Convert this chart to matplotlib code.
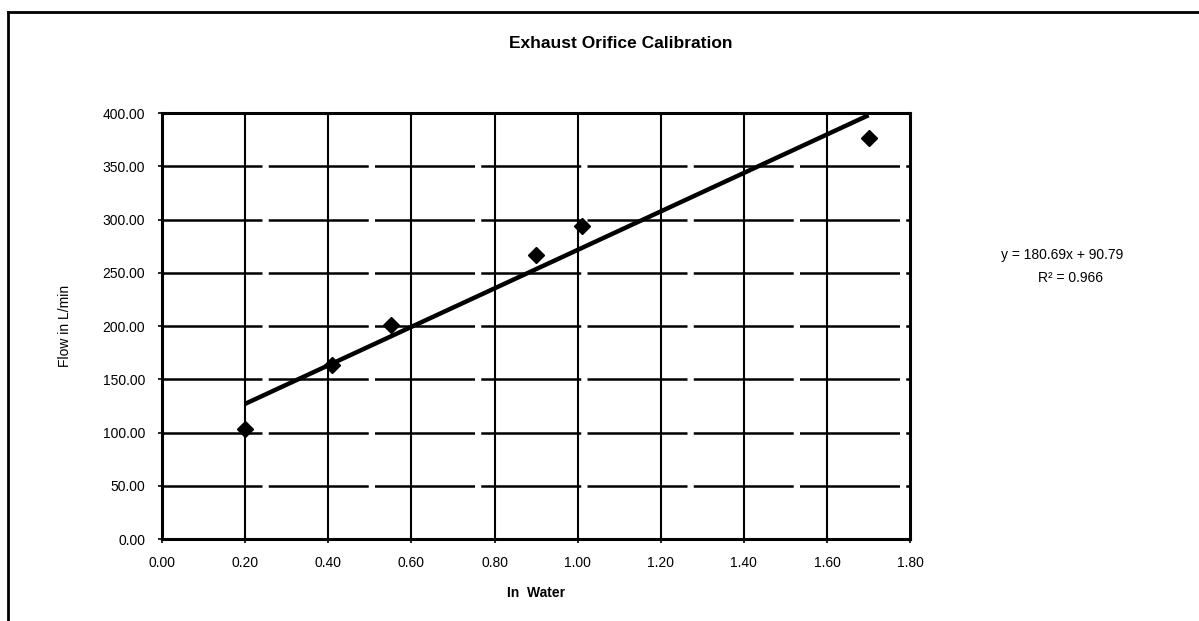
import matplotlib
matplotlib.use("Agg")
import matplotlib.pyplot as plt
from matplotlib.lines import Line2D
import numpy as np

plt.rcParams['font.family'] = ['Liberation Sans', 'DejaVu Sans']

# Data
in_water = [0.20, 0.41, 0.55, 0.90, 1.01, 1.70]
flow_lpm = [103, 163, 201, 267, 294, 377]
slope, intercept = 180.69, 90.79
r_squared = 0.966
x_ticks = [0.00, 0.20, 0.40, 0.60, 0.80, 1.00, 1.20, 1.40, 1.60, 1.80]
y_ticks = [0, 50, 100, 150, 200, 250, 300, 350, 400]

fig = plt.figure(figsize=(11.99, 6.21), dpi=100)
ax = fig.add_axes([0.1351, 0.132, 0.624, 0.686])

ax.set_xlim(0, 1.8)
ax.set_ylim(0, 400)
ax.set_xticks(x_ticks)
ax.set_yticks(y_ticks)
ax.set_xticklabels([f"{v:.2f}" for v in x_ticks])
ax.set_yticklabels([f"{v:.2f}" for v in y_ticks])
ax.tick_params(axis='both', labelsize=10, length=3, width=1.2, color='black',
               pad=9)

for v in x_ticks[1:-1]:
    ax.axvline(v, color='black', lw=1.5, zorder=1)
for v in y_ticks[1:-1]:
    ax.axhline(v, color='black', lw=1.8, dashes=(40, 2.5), zorder=1)

for s in ax.spines.values():
    s.set_linewidth(2.2)
    s.set_color('black')

xs = np.array([min(in_water), max(in_water)])
ax.plot(xs, slope * xs + intercept, color='black', lw=3.2, zorder=3,
        solid_capstyle='butt')
ax.plot(in_water, flow_lpm, linestyle='none', marker='D', markersize=8.5,
        color='black', zorder=4)

ax.set_xlabel("In  Water", fontsize=10, fontweight='bold', labelpad=12)
ax.set_ylabel("Flow in L/min", fontsize=10, labelpad=22)
fig.text(0.518, 0.930, "Exhaust Orifice Calibration", ha='center',
         va='center', fontsize=12.5, fontweight='bold')

fig.text(0.886, 0.589, f"y = {slope:.2f}x + {intercept:.2f}", ha='center',
         va='center', fontsize=10)
fig.text(0.893, 0.552, f"R² = {r_squared:.3f}", ha='center', va='center',
         fontsize=10)

# outer frame (top and left edges visible)
fig.add_artist(Line2D([0.0067, 1.0], [0.9807, 0.9807], color='black', lw=2,
                      transform=fig.transFigure))
fig.add_artist(Line2D([0.0067, 0.0067], [0.0, 0.9807], color='black', lw=2,
                      transform=fig.transFigure))

fig.savefig("out.png", dpi=100)
